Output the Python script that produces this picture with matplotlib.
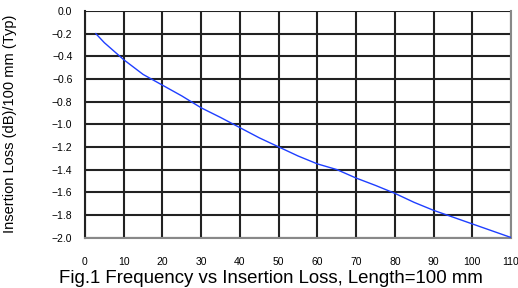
import matplotlib
matplotlib.use("Agg")
import matplotlib.pyplot as plt

freq = [2.8, 5, 7, 10, 15, 20, 25, 30, 35, 40, 45, 50, 55, 60, 65, 70, 75, 80, 85, 90, 95, 100, 105, 110]
loss = [-0.20, -0.28, -0.34, -0.43, -0.56, -0.655, -0.75, -0.855, -0.94, -1.03, -1.12, -1.20, -1.28,
        -1.35, -1.40, -1.475, -1.54, -1.61, -1.69, -1.76, -1.82, -1.88, -1.94, -2.00]
xticks = [0, 10, 20, 30, 40, 50, 60, 70, 80, 90, 100, 110]
yticks = [0.0, -0.2, -0.4, -0.6, -0.8, -1.0, -1.2, -1.4, -1.6, -1.8, -2.0]

plt.rcParams['font.family'] = ['Liberation Sans', 'DejaVu Sans']

fig = plt.figure(figsize=(5.18, 2.88), dpi=100)
ax = fig.add_axes([85/518, 1-237.5/288, 426/518, 226.5/288])

for x in xticks:
    ax.axvline(x, color='#222222', lw=1.5, zorder=1)
for y in yticks:
    ax.axhline(y, color='#222222', lw=1.5, zorder=1)

ax.plot(freq, loss, color='#1f3fff', lw=1.0, zorder=3)

ax.set_xlim(0, 110)
ax.set_ylim(-2.0, 0.0)
ax.set_xticks(xticks)
ax.set_yticks(yticks)
ax.set_xticklabels([str(x) for x in xticks])
ax.set_yticklabels(['%.1f' % y if y == 0 else '\u2212%.1f' % abs(y) for y in yticks])
ax.tick_params(axis='x', length=0, pad=14, labelsize=7.5)
ax.tick_params(axis='y', length=0, pad=9, labelsize=7.5)
for s in ['bottom', 'right']:
    ax.spines[s].set_color('#888888')
    ax.spines[s].set_linewidth(1.5)
ax.spines['left'].set_color('#222222')
ax.spines['left'].set_linewidth(1.5)
ax.spines['top'].set_visible(False)

ax.set_ylabel('Insertion Loss (dB)/100 mm (Typ)', fontsize=10.5)
ax.yaxis.set_label_coords((17 - 85) / 426, 0.5)
fig.text(0.524, 5/288, 'Fig.1 Frequency vs Insertion Loss, Length=100 mm', ha='center', va='baseline', fontsize=13.4)

fig.savefig('out.png', dpi=100)
